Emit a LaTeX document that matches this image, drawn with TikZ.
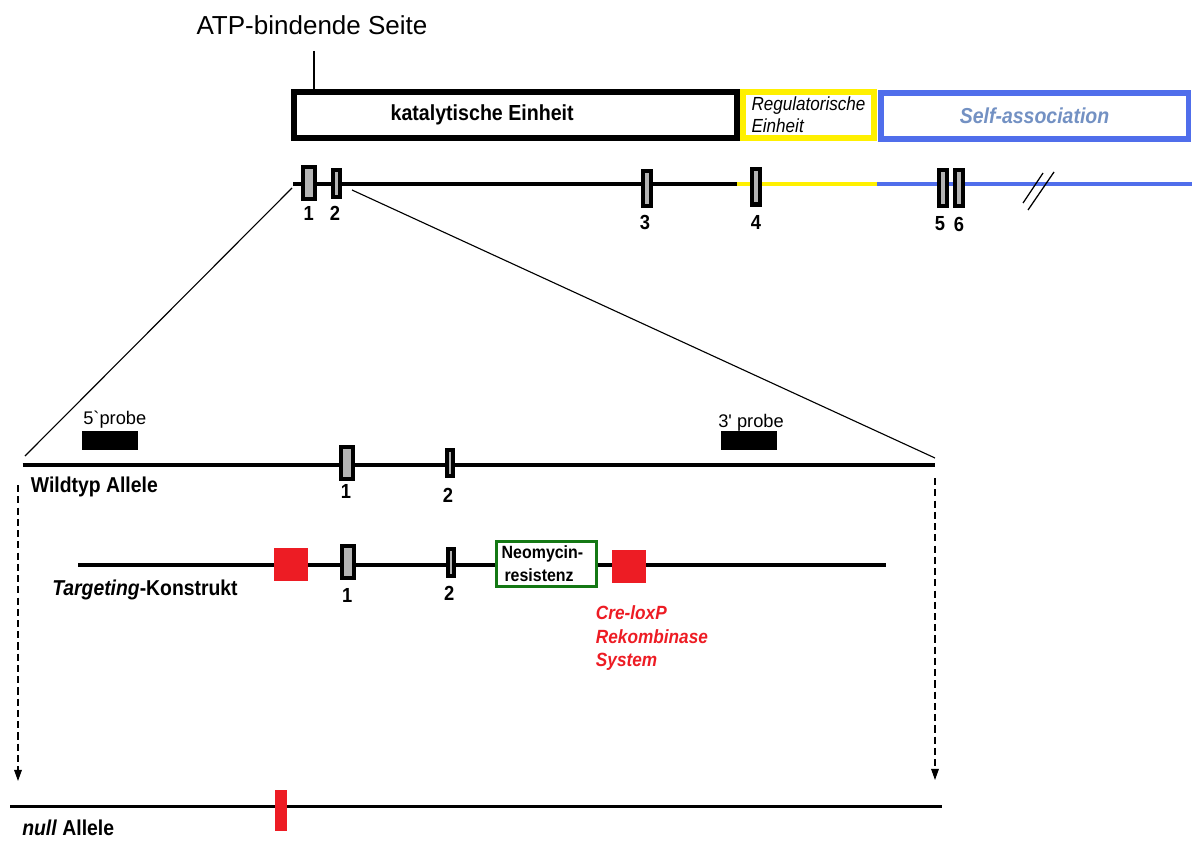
\documentclass[tikz,border=0pt]{standalone}
\usepackage{fontspec}
\setmainfont{Liberation Sans}
\newfontfamily\narrowsf[FakeStretch=0.9]{Liberation Sans}
\usepackage{xcolor}
\usepackage{tikz}
\usetikzlibrary{arrows.meta}
\definecolor{exongray}{RGB}{180,180,180}
\definecolor{regyellow}{RGB}{255,240,0}
\definecolor{selfblue}{RGB}{80,110,235}
\definecolor{selftext}{RGB}{115,145,195}
\definecolor{loxred}{RGB}{237,28,36}
\definecolor{neogreen}{RGB}{20,120,20}

\begin{document}
\begin{tikzpicture}[
    x=0.025cm, y=-0.025cm,
    unitbox/.style={rectangle, draw=#1, line width=4.25pt, inner sep=0pt, minimum height=32.6pt},
    exon/.style={rectangle, draw=black, fill=exongray, line width=3pt, inner sep=0pt},
    bigexon/.style={exon, minimum width=8.3pt, minimum height=22.5pt},
    midexon/.style={exon, minimum width=5.9pt, minimum height=25.3pt},
    thinexon/.style={exon, minimum width=4.6pt, minimum height=19pt},
    loxp/.style={rectangle, fill=loxred, inner sep=0pt},
    probe/.style={rectangle, fill=black, inner sep=0pt, minimum width=40pt, minimum height=13.7pt},
    probetext/.style={font=\fontsize{13}{15}\selectfont, anchor=west, inner sep=0pt},
    exnum/.style={font=\narrowsf\bfseries\fontsize{14.5}{16}\selectfont, inner sep=0pt},
    tag/.style={font=\narrowsf\bfseries\fontsize{15.3}{18}\selectfont, anchor=west, inner sep=0pt},
    gene/.style={line width=2.6pt},
    allele/.style={line width=2.8pt},
    zoomline/.style={line width=0.8pt},
    transfer/.style={-{Triangle[width=5.5pt,length=8pt]}, dash pattern=on 5pt off 3pt, line width=0.9pt}
  ]
    \useasboundingbox (0,0) rectangle (1198,841);

    % Protein domains
    \node[font=\fontsize{18.5}{20}\selectfont] (atp) at (312,25) {ATP-bindende Seite};
    \node[unitbox=regyellow, minimum width=92.8pt, align=left, font=\narrowsf\itshape\fontsize{13.5}{15.6}\selectfont] (reg) at (808.5,115) {Regulatorische\\Einheit};
    \node[unitbox=black, minimum width=315.4pt, label={[font=\narrowsf\bfseries\fontsize{15.5}{18}\selectfont, xshift=-23.7pt]center:katalytische Einheit}] (kat) at (515.5,115) {};
    \node[unitbox=selfblue, minimum width=219pt, text=selftext, font=\narrowsf\bfseries\itshape\fontsize{15.4}{18}\selectfont] (self) at (1034.5,116) {Self-association};
    \coordinate (atptick) at (314,51);
    \draw[line width=1.4pt] (atptick) -- (atptick |- kat.north);

    % Gene
    \coordinate (g0) at (293,184);
    \coordinate (g1) at (737,184);
    \coordinate (g2) at (877,184);
    \coordinate (g3) at (1192,184);
    \draw[gene, black] (g0) -- (g1);
    \draw[gene, regyellow] (g1) -- (g2);
    \draw[gene, selfblue] (g2) -- (g3);
    \node[bigexon] (gE1) at (309,183) {};
    \node[thinexon] (gE2) at (336.5,183.5) {};
    \node[midexon] (gE3) at (647,188.5) {};
    \node[midexon] (gE4) at (756,186.7) {};
    \node[midexon] (gE5) at (943,188) {};
    \node[midexon] (gE6) at (959,188) {};
    \node[exnum] (gN1) at (308.7,213) {1};
    \node[exnum] (gN2) at (335,213) {2};
    \node[exnum] (gN3) at (645,222) {3};
    \node[exnum] (gN4) at (756,222) {4};
    \node[exnum] (gN5) at (940,224) {5};
    \node[exnum] (gN6) at (959,224) {6};
    \draw[line width=0.9pt] (1023,203) -- (1043,173);
    \draw[line width=0.9pt] (1028,210) -- (1054,172);

    % Zoom to the 5' region
    \coordinate (zoomL0) at (292,188);
    \coordinate (zoomL1) at (25,456);
    \coordinate (zoomR0) at (352,190);
    \coordinate (zoomR1) at (935,458);
    \draw[zoomline] (zoomL0) -- (zoomL1);
    \draw[zoomline] (zoomR0) -- (zoomR1);

    % Wildtyp allele
    \coordinate (wt0) at (22.7,465);
    \coordinate (wt1) at (935,465);
    \draw[allele] (wt0) -- (wt1);
    \node[probe] (probe5) at (109.7,440.4) {};
    \node[probe] (probe3) at (749,440.4) {};
    \node[probetext] (probe5label) at (83,420) {5\textasciigrave probe};
    \node[probetext] (probe3label) at (718,422.7) {3\textquotesingle{} probe};
    \node[bigexon] (wtE1) at (347,463) {};
    \node[thinexon] (wtE2) at (450,463) {};
    \node[exnum] (wtN1) at (346,491.7) {1};
    \node[exnum] (wtN2) at (448,495) {2};
    \node[tag] (wtlabel) at (30.7,487.3) {Wildtyp Allele};

    % Targeting construct
    \coordinate (tk0) at (78,565);
    \coordinate (tk1) at (886,565);
    \draw[allele] (tk0) -- (tk1);
    \node[loxp, minimum width=24pt, minimum height=23.2pt] (loxL) at (291.3,564.3) {};
    \node[loxp, minimum width=23.9pt, minimum height=23.6pt] (loxR) at (629,566.7) {};
    \node[bigexon] (tkE1) at (348,562) {};
    \node[thinexon] (tkE2) at (451,562.3) {};
    \node[exnum] (tkN1) at (347.3,595) {1};
    \node[exnum] (tkN2) at (449.3,593) {2};
    \node[rectangle, draw=neogreen, fill=white, line width=2.1pt, text width=64pt, inner sep=3.5pt, minimum height=31.4pt, align=left, font=\narrowsf\bfseries\fontsize{12.6}{15.8}\selectfont] (neo) at (546.7,563.7) {Neomycin-\\\hspace*{2pt}resistenz};
    \node[tag] (tklabel) at (52,590) {\textit{Targeting}-Konstrukt};
    \node[anchor=west, inner sep=0pt, align=left, text=loxred, font=\narrowsf\bfseries\itshape\fontsize{13.6}{16.7}\selectfont] (loxlabel) at (595.7,638.3) {Cre-loxP\\Rekombinase\\System};

    % Recombination
    \coordinate (arrL0) at (18,485);
    \coordinate (arrL1) at (18,781);
    \coordinate (arrR0) at (935,478);
    \coordinate (arrR1) at (935,780);
    \draw[transfer] (arrL0) -- (arrL1);
    \draw[transfer] (arrR0) -- (arrR1);

    % null allele
    \coordinate (null0) at (10,806.5);
    \coordinate (null1) at (941.7,806.5);
    \draw[allele] (null0) -- (null1);
    \node[loxp, minimum width=8.5pt, minimum height=29pt] (nullscar) at (281,810.5) {};
    \node[tag] (nulllabel) at (22,828) {\textit{null} Allele};
  \end{tikzpicture}
\end{document}
